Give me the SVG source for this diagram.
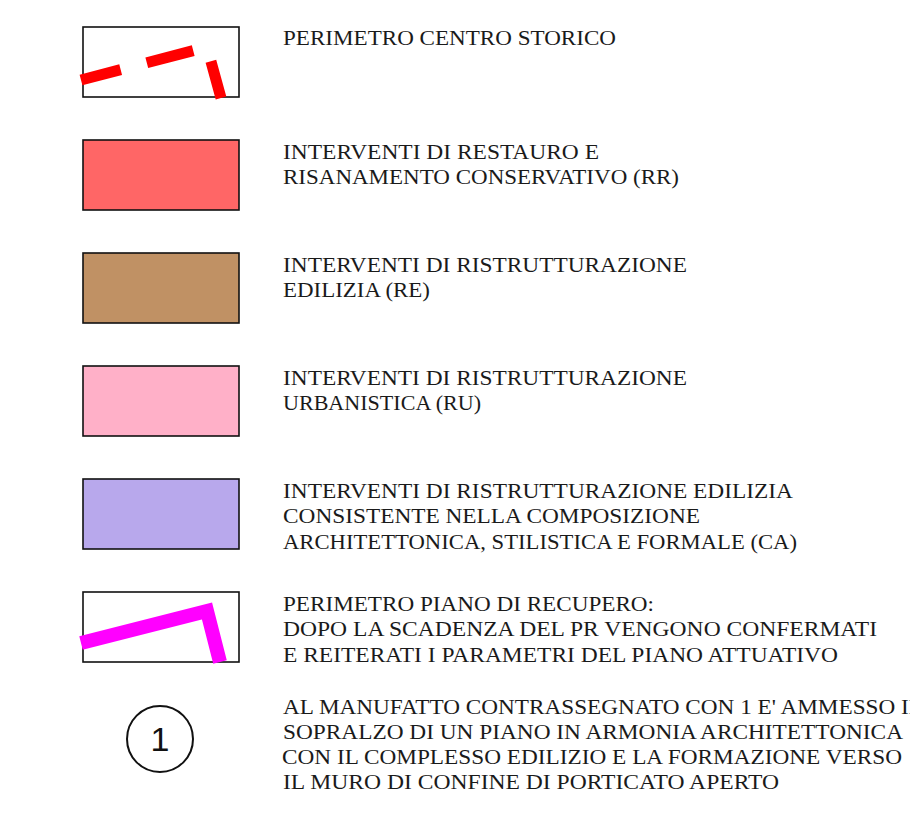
<svg xmlns="http://www.w3.org/2000/svg" width="910" height="829" viewBox="0 0 910 829">
<style>
.box{stroke:#111;stroke-width:1.6}
.t{font-family:"Liberation Serif","Times New Roman",serif;font-size:21px;fill:#1a1a1a}
</style>
<rect width="910" height="829" fill="#fff"/>
<g id="legend-centro-storico">
<rect class="box" x="83" y="27" width="156" height="70" fill="#fff"/>
<path d="M81 80 L207 47 L221 98" fill="none" stroke="#ff0000" stroke-width="11" stroke-dasharray="41 27 48 29 40"/>
<text class="t" x="283" y="45" textLength="333" lengthAdjust="spacingAndGlyphs">PERIMETRO CENTRO STORICO</text>
</g>
<g id="legend-rr">
<rect class="box" x="83" y="140" width="156" height="70" fill="#ff6666"/>
<text class="t" x="283" y="159" textLength="316" lengthAdjust="spacingAndGlyphs">INTERVENTI DI RESTAURO E</text>
<text class="t" x="283" y="184" textLength="396" lengthAdjust="spacingAndGlyphs">RISANAMENTO CONSERVATIVO (RR)</text>
</g>
<g id="legend-re">
<rect class="box" x="83" y="253" width="156" height="70" fill="#c09164"/>
<text class="t" x="283" y="272" textLength="404" lengthAdjust="spacingAndGlyphs">INTERVENTI DI RISTRUTTURAZIONE</text>
<text class="t" x="283" y="297" textLength="147" lengthAdjust="spacingAndGlyphs">EDILIZIA (RE)</text>
</g>
<g id="legend-ru">
<rect class="box" x="83" y="366" width="156" height="70" fill="#ffb0c8"/>
<text class="t" x="283" y="385" textLength="404" lengthAdjust="spacingAndGlyphs">INTERVENTI DI RISTRUTTURAZIONE</text>
<text class="t" x="283" y="410" textLength="198" lengthAdjust="spacingAndGlyphs">URBANISTICA (RU)</text>
</g>
<g id="legend-ca">
<rect class="box" x="83" y="479" width="156" height="70" fill="#b8a8ec"/>
<text class="t" x="283" y="498" textLength="510" lengthAdjust="spacingAndGlyphs">INTERVENTI DI RISTRUTTURAZIONE EDILIZIA</text>
<text class="t" x="283" y="523" textLength="417" lengthAdjust="spacingAndGlyphs">CONSISTENTE NELLA COMPOSIZIONE</text>
<text class="t" x="283" y="549" textLength="514" lengthAdjust="spacingAndGlyphs">ARCHITETTONICA, STILISTICA E FORMALE (CA)</text>
</g>
<g id="legend-piano-recupero">
<rect class="box" x="83" y="592" width="156" height="70" fill="#fff"/>
<path d="M81 643 L207 611 L220 662" fill="none" stroke="#ff00ff" stroke-width="14"/>
<text class="t" x="283" y="611" textLength="371" lengthAdjust="spacingAndGlyphs">PERIMETRO PIANO DI RECUPERO:</text>
<text class="t" x="283" y="636" textLength="594" lengthAdjust="spacingAndGlyphs">DOPO LA SCADENZA DEL PR VENGONO CONFERMATI</text>
<text class="t" x="283" y="662" textLength="555" lengthAdjust="spacingAndGlyphs">E REITERATI I PARAMETRI DEL PIANO ATTUATIVO</text>
</g>
<g id="legend-manufatto">
<circle cx="160" cy="739" r="33" fill="#fff" stroke="#111" stroke-width="2"/>
<text x="160" y="751" text-anchor="middle" font-family="Liberation Sans, Arial, sans-serif" font-size="34" fill="#111">1</text>
<text class="t" x="283" y="714" textLength="640" lengthAdjust="spacingAndGlyphs">AL MANUFATTO CONTRASSEGNATO CON 1 E' AMMESSO IL</text>
<text class="t" x="283" y="739" textLength="620" lengthAdjust="spacingAndGlyphs">SOPRALZO DI UN PIANO IN ARMONIA ARCHITETTONICA</text>
<text class="t" x="282" y="764" textLength="620" lengthAdjust="spacingAndGlyphs">CON IL COMPLESSO EDILIZIO E LA FORMAZIONE VERSO</text>
<text class="t" x="283" y="789" textLength="496" lengthAdjust="spacingAndGlyphs">IL MURO DI CONFINE DI PORTICATO APERTO</text>
</g>
<g id="connectors"/>
</svg>
